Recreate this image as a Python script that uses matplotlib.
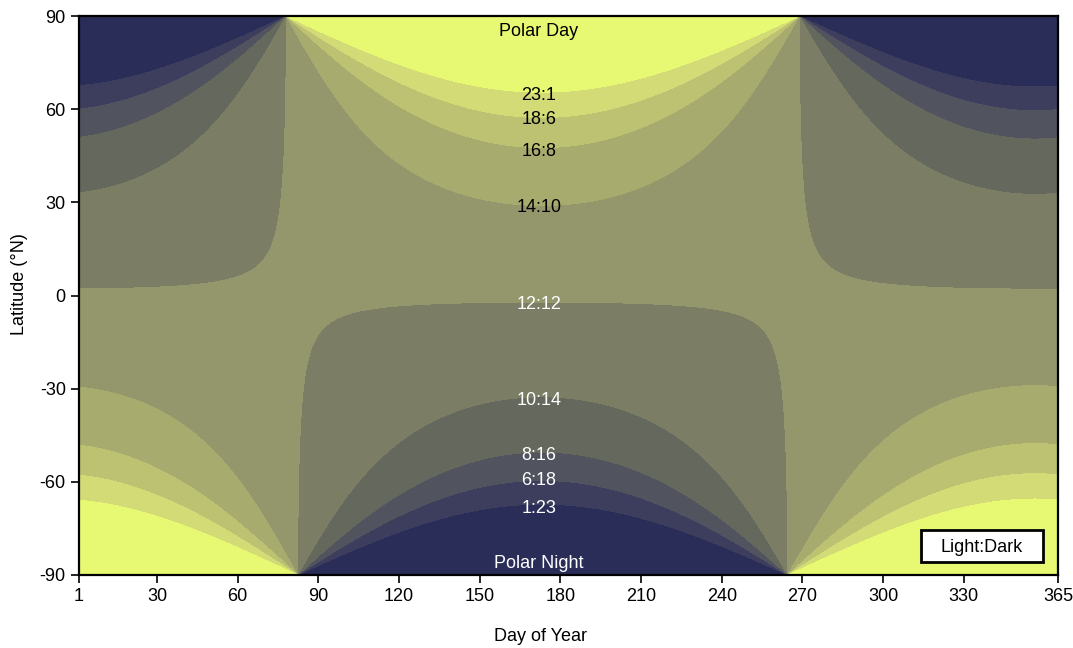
import numpy as np
import matplotlib as mpl
mpl.use('Agg')
import matplotlib.pyplot as plt
from matplotlib.patches import Rectangle

plt.rcParams['font.family'] = ['Liberation Sans', 'DejaVu Sans']
plt.rcParams['axes.unicode_minus'] = False

# photoperiod band edges (hours of light) and fill colours, dark -> light
levels = [0, 1, 6, 8, 10, 12, 14, 16, 18, 23, 24]
band_colors = ['#292d57', '#3d3e5e', '#51545f', '#65685c', '#7b7e64',
               '#93976b', '#a7ab6d', '#bcc271', '#d2db76', '#e7f872']

# light:dark labels along the solstice column
ld_labels = ['23:1', '18:6', '16:8', '14:10', '12:12', '10:14', '8:16', '6:18', '1:23']
ld_lat = [65, 57.3, 47.2, 29.1, -2.3, -33.3, -50.8, -58.9, -68]
ld_color = ['black', 'black', 'black', 'black', 'white', 'white', 'white', 'white', 'white']
label_day = 172

xticks = [1, 30, 60, 90, 120, 150, 180, 210, 240, 270, 300, 330, 365]
yticks = [-90, -60, -30, 0, 30, 60, 90]


def daylength(lat, doy, p=0.8333):
    # CBM model (Forsythe et al. 1995), sunrise/sunset at upper limb with refraction
    theta = 0.2163108 + 2 * np.arctan(0.9671396 * np.tan(0.00860 * (doy - 186)))
    dec = np.arcsin(0.39795 * np.cos(theta))
    rl = np.radians(lat)
    arg = (np.sin(np.radians(p)) + np.sin(rl) * np.sin(dec)) / (np.cos(rl) * np.cos(dec))
    arg = np.clip(arg, -1, 1)
    return 24 - (24 / np.pi) * np.arccos(arg)


days = np.linspace(1, 365, 1460)
lats = np.linspace(-90, 90, 1441)
D, L = np.meshgrid(days, lats)
H = daylength(L, D)

fig = plt.figure(figsize=(10.73, 6.48), dpi=100)
ax = fig.add_axes([0.0736, 0.1127, 0.9124, 0.8623])
ax.contourf(D, L, H, levels=levels, colors=band_colors)

for txt, y, c in zip(ld_labels, ld_lat, ld_color):
    ax.text(label_day, y, txt, ha='center', va='center_baseline', fontsize=13, color=c)
ax.text(label_day, 85.8, 'Polar Day', ha='center', va='center_baseline', fontsize=13, color='black')
ax.text(label_day, -85.8, 'Polar Night', ha='center', va='center_baseline', fontsize=13, color='white')

# key box in the lower right corner
ax.add_patch(Rectangle((0.860, 0.0233), 0.125, 0.0572, transform=ax.transAxes,
                       facecolor='white', edgecolor='black', linewidth=2, zorder=5))
ax.text(0.922, 0.052, 'Light:Dark', transform=ax.transAxes, ha='center', va='center_baseline',
        fontsize=13, color='black', zorder=6)

ax.set_xlim(1, 365)
ax.set_ylim(-90, 90)
ax.set_xticks(xticks)
ax.set_yticks(yticks)
ax.tick_params(direction='out', length=6, width=1.2, labelsize=13)
for s in ax.spines.values():
    s.set_linewidth(1.6)
ax.set_xlabel('Day of Year', fontsize=13, labelpad=18)
ax.set_ylabel('Latitude (°N)', fontsize=13, labelpad=6)
ax.xaxis.set_label_coords(0.471, -0.095)
ax.yaxis.set_label_coords(-0.052, 0.521)

plt.savefig('out.png')
